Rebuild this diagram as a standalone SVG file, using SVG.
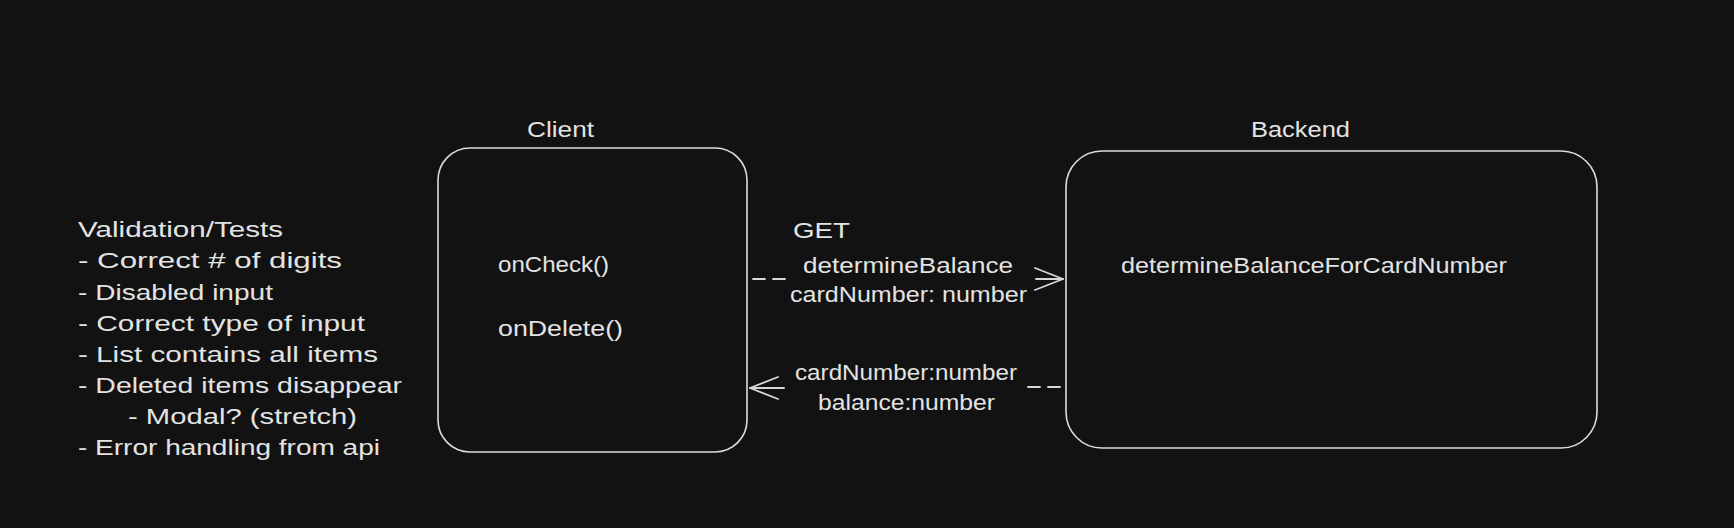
<svg xmlns="http://www.w3.org/2000/svg" width="1734" height="528" viewBox="0 0 1734 528">
<defs>
<style>
.t{font-family:"Liberation Sans","DejaVu Sans",sans-serif;font-size:22px;fill:#e3e3e3;}
.box{fill:none;stroke:#dcdcdc;stroke-width:1.6;}
.ln{fill:none;stroke:#d8d8d8;stroke-width:1.8;stroke-linecap:round;}
.dash{stroke-dasharray:12 8;}
</style>
<marker id="ah" viewBox="0 0 32 24" refX="30" refY="12" markerWidth="32" markerHeight="24" markerUnits="userSpaceOnUse" orient="auto">
<path d="M2,1 L30,12 L2,23" fill="none" stroke="#d8d8d8" stroke-width="1.8" stroke-linecap="round" stroke-linejoin="round"/>
</marker>
</defs>
<rect x="0" y="0" width="1734" height="528" fill="#121212"/>

<g id="notes">
<text class="t" x="78" y="237" textLength="205" lengthAdjust="spacingAndGlyphs">Validation/Tests</text>
<text class="t" x="78" y="268" textLength="264" lengthAdjust="spacingAndGlyphs">- Correct # of digits</text>
<text class="t" x="78" y="300" textLength="195" lengthAdjust="spacingAndGlyphs">- Disabled input</text>
<text class="t" x="78" y="331" textLength="287" lengthAdjust="spacingAndGlyphs">- Correct type of input</text>
<text class="t" x="78" y="362" textLength="300" lengthAdjust="spacingAndGlyphs">- List contains all items</text>
<text class="t" x="78" y="393" textLength="324" lengthAdjust="spacingAndGlyphs">- Deleted items disappear</text>
<text class="t" x="128" y="424" textLength="229" lengthAdjust="spacingAndGlyphs">- Modal? (stretch)</text>
<text class="t" x="78" y="455" textLength="302" lengthAdjust="spacingAndGlyphs">- Error handling from api</text>
</g>

<g id="client">
<text class="t" x="527" y="137" textLength="67" lengthAdjust="spacingAndGlyphs">Client</text>
<rect class="box" x="438" y="148" width="309" height="304" rx="32" ry="32"/>
<text class="t" x="498" y="272" textLength="111" lengthAdjust="spacingAndGlyphs">onCheck()</text>
<text class="t" x="498" y="336" textLength="125" lengthAdjust="spacingAndGlyphs">onDelete()</text>
</g>

<g id="backend">
<text class="t" x="1251" y="137" textLength="99" lengthAdjust="spacingAndGlyphs">Backend</text>
<rect class="box" x="1066" y="151" width="531" height="297" rx="36" ry="36"/>
<text class="t" x="1121" y="273" textLength="386" lengthAdjust="spacingAndGlyphs">determineBalanceForCardNumber</text>
</g>

<g id="connectors">
<g id="request">
<line class="ln dash" x1="753" y1="279" x2="787" y2="279"/>
<line class="ln" x1="1036" y1="279" x2="1063" y2="279" marker-end="url(#ah)"/>
<text class="t" x="793" y="238" textLength="57" lengthAdjust="spacingAndGlyphs">GET</text>
<text class="t" x="803" y="273" textLength="210" lengthAdjust="spacingAndGlyphs">determineBalance</text>
<text class="t" x="790" y="302" textLength="237" lengthAdjust="spacingAndGlyphs">cardNumber: number</text>
</g>
<g id="response">
<line class="ln dash" x1="1028" y1="387" x2="1061" y2="387"/>
<line class="ln" x1="784" y1="388" x2="750" y2="388" marker-end="url(#ah)"/>
<text class="t" x="795" y="380" textLength="222" lengthAdjust="spacingAndGlyphs">cardNumber:number</text>
<text class="t" x="818" y="410" textLength="177" lengthAdjust="spacingAndGlyphs">balance:number</text>
</g>
</g>
</svg>
